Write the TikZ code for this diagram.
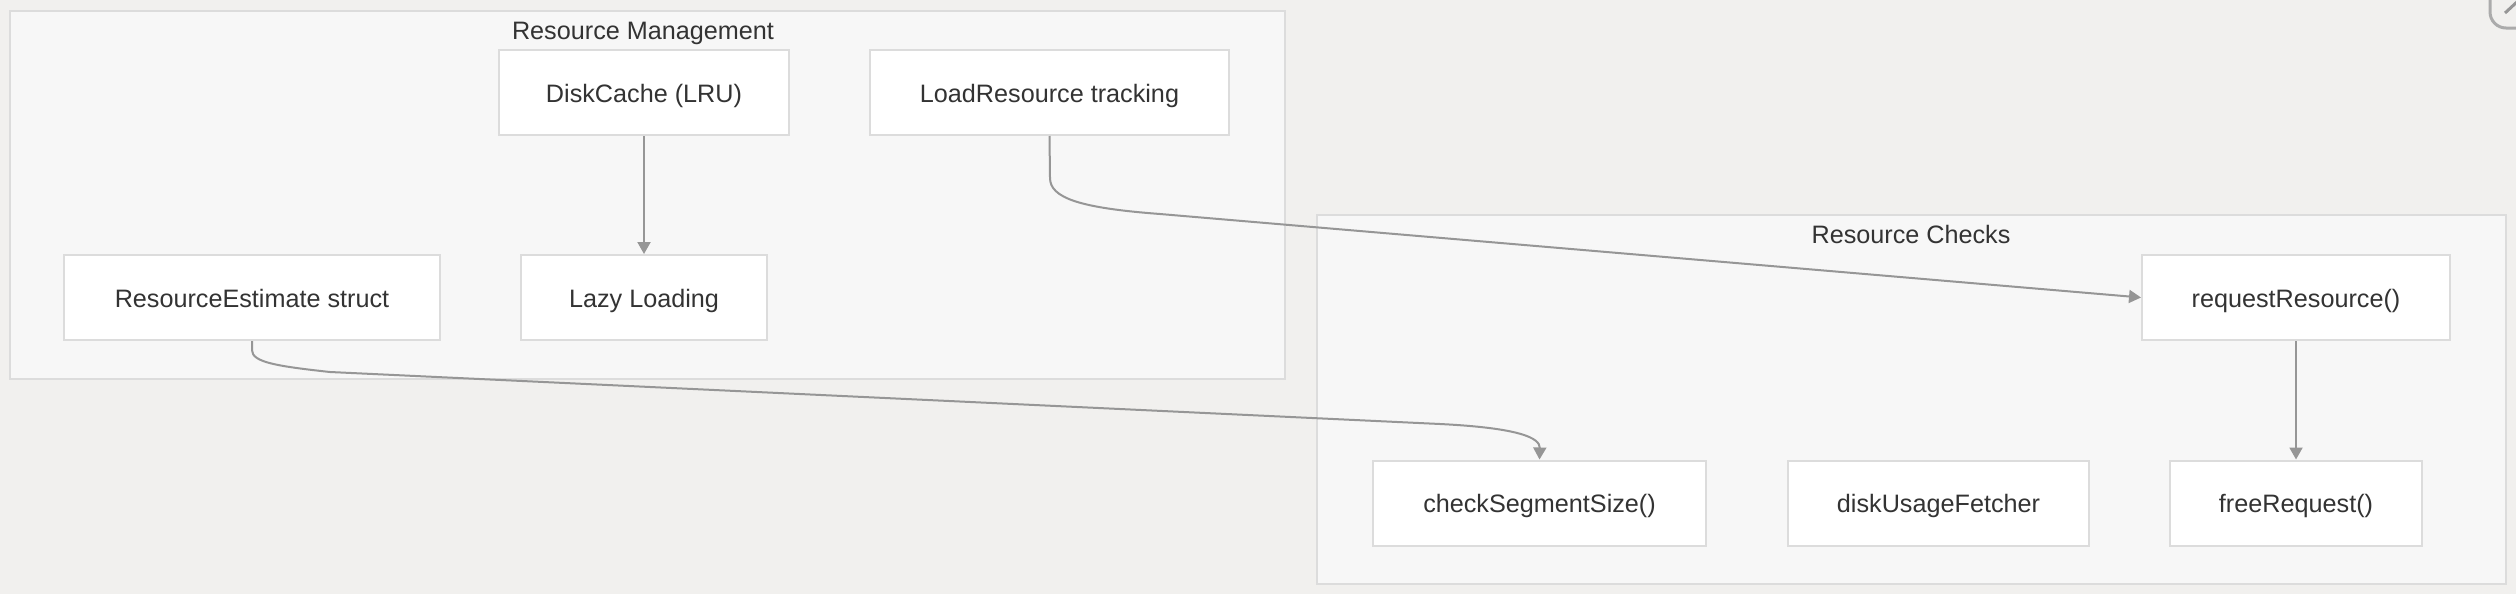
\documentclass[tikz,border=0pt]{standalone}
\usepackage{fontspec}
\setmainfont{Liberation Sans}
\usepackage{xcolor}
\usetikzlibrary{arrows.meta}
\definecolor{rmback}{RGB}{241,240,238}
\definecolor{rmgroup}{RGB}{247,247,247}
\definecolor{rmedge}{RGB}{220,220,220}
\definecolor{rmtext}{RGB}{51,51,51}
\definecolor{rmwire}{RGB}{150,150,150}
\tikzset{
  group/.style={draw=rmedge, line width=1pt, fill=rmgroup},
  grouptitle/.style={font=\fontsize{12.6}{15}\selectfont, text=rmtext, inner sep=0pt,
                     text height=9.5pt, text depth=0pt},
  unit/.style={draw=rmedge, line width=1pt, fill=white, minimum height=42.5pt,
               inner sep=0pt, font=\fontsize{12.6}{15}\selectfont, text=rmtext,
               text height=9.5pt, text depth=0pt},
  wire/.style={-{Triangle[length=6pt,width=6.5pt]}, draw=rmwire, line width=1pt},
}

\begin{document}
\begin{tikzpicture}[x=0.5pt, y=-0.5pt]
% canvas, in pixels of the screenshot, y running down
\fill[rmback] (0,0) rectangle (2516,594);
\useasboundingbox (0,0) rectangle (2516,594);

% window button, cut off at the corner
\begin{scope}
  \clip (0,0) rectangle (2516,594);
  \draw[rmwire!80, line width=1.5pt, rounded corners=8pt] (2490,-30) rectangle (2540,28);
  \draw[rmwire, line width=1.5pt] (2505,13) -- (2518,1);
\end{scope}

% the two groups
\draw[group] (10,11) rectangle (1285,379);
\node[grouptitle] (rmtitle) at (643,30) {Resource Management};
\draw[group] (1317,215) rectangle (2506,584);
\node[grouptitle] (rctitle) at (1911,234) {Resource Checks};

% Resource Management
\node[unit, minimum width=145pt] (cache) at (644,92.5) {DiskCache (LRU)};
\node[unit, minimum width=179.5pt] (track) at (1049.5,92.5) {LoadResource tracking};
\node[unit, minimum width=188pt] (estim) at (252,297.5) {ResourceEstimate struct};
\node[unit, minimum width=123pt] (lazy) at (644,297.5) {Lazy Loading};

% Resource Checks
\node[unit, minimum width=154pt] (request) at (2296,297.5) {requestResource()};
\node[unit, minimum width=166.5pt] (segsize) at (1539.5,503) {checkSegmentSize()};
\node[unit, minimum width=150.5pt] (usage) at (1938.5,503) {diskUsageFetcher};
\node[unit, minimum width=126pt] (free) at (2296,503) {freeRequest()};

% connectors
\draw[wire] (cache.south) -- (lazy.north);
\draw[wire] (track.south) -- (1050,178) .. controls (1050,198) and (1080,208) .. (1160,214)
  -- (request.west);
\draw[wire] (estim.south) -- (252,350) .. controls (252,362) and (275,366) .. (330,372)
  -- (1440,424) .. controls (1520,428) and (1540,438) .. (segsize.north);
\draw[wire] (request.south) -- (free.north);
\end{tikzpicture}
\end{document}
